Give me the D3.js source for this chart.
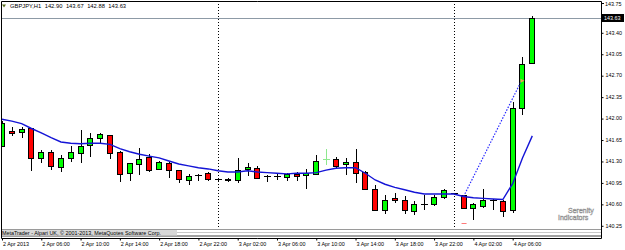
<!DOCTYPE html>
<html>
<head>
<meta charset="utf-8">
<script src="https://cdn.jsdelivr.net/npm/d3@7"></script>
<style>
  body { margin: 0; background: #fff; }
  svg { display: block; font-family: "Liberation Sans", Arial, sans-serif; }
</style>
</head>
<body>
<div class="chart"></div>
<script>
// GBPJPY H1, 2 Apr 02:00 .. 4 Apr 08:00 (bar index 0..54)
const opens  = [141.54,141.79,141.77,141.83,141.34,141.44,141.21,141.36,141.44,141.55,
                141.68,141.72,141.45,141.09,141.26,141.37,141.17,141.27,141.15,140.98,
                141.07,141.11,141.00,141.00,140.98,141.16,141.19,141.05,141.05,141.04,
                141.09,141.06,141.09,141.33,141.33,141.25,141.29,141.12,140.84,140.51,
                140.69,140.67,140.49,140.59,140.59,140.70,140.77,140.74,140.53,140.58,
                140.67,140.65,140.49,142.18,142.90];
const highs  = [141.95,141.86,141.85,141.84,141.48,141.48,141.40,141.55,141.81,141.75,
                141.76,141.73,141.46,141.27,141.51,141.42,141.30,141.28,141.16,141.09,
                141.08,141.12,141.03,141.02,141.35,141.27,141.22,141.07,141.08,141.11,
                141.12,141.17,141.40,141.49,141.36,141.35,141.50,141.14,140.91,140.74,
                140.77,140.73,140.65,140.74,140.74,140.85,140.78,140.75,140.61,140.85,
                140.68,140.67,142.27,142.99,143.67];
const lows   = [141.53,141.70,141.67,141.14,141.27,141.16,141.12,141.29,141.27,141.37,
                141.58,141.34,140.96,140.97,141.07,141.12,141.15,141.03,140.94,140.91,
                140.98,140.97,140.97,140.95,140.94,141.06,141.02,140.95,140.99,140.97,
                140.98,140.84,141.08,141.24,141.19,141.07,140.94,140.83,140.48,140.43,
                140.61,140.43,140.42,140.50,140.57,140.68,140.74,140.51,140.34,140.53,
                140.50,140.39,140.45,142.05,142.88];
const closes = [141.92,141.76,141.82,141.34,141.44,141.21,141.35,141.45,141.55,141.67,
                141.74,141.43,141.09,141.26,141.34,141.16,141.28,141.15,141.01,141.05,
                141.07,141.02,141.00,140.98,141.15,141.20,141.03,141.05,141.05,141.09,
                141.05,141.10,141.30,141.33,141.22,141.28,141.11,140.85,140.49,140.67,
                140.66,140.51,140.60,140.59,140.71,140.82,140.77,140.53,140.59,140.67,
                140.67,140.49,142.16,142.89,143.63];
const maValues = [141.98,141.95,141.91,141.83,141.76,141.68,141.61,141.59,141.58,141.59,
                  141.59,141.57,141.50,141.45,141.41,141.38,141.35,141.30,141.25,141.22,
                  141.19,141.17,141.14,141.12,141.12,141.14,141.12,141.11,141.10,141.09,
                  141.10,141.10,141.11,141.15,141.18,141.19,141.19,141.10,140.99,140.92,
                  140.87,140.83,140.79,140.76,140.76,140.76,140.76,140.72,140.70,140.69,
                  140.68,140.67,140.93,141.35,141.71];

const timeTicks  = [0,4,8,12,16,20,24,28,32,36,40,44,48,52];
const timeLabels = ["2 Apr 2013","2 Apr 06:00","2 Apr 10:00","2 Apr 14:00","2 Apr 18:00",
                    "2 Apr 22:00","3 Apr 02:00","3 Apr 06:00","3 Apr 10:00","3 Apr 14:00",
                    "3 Apr 18:00","3 Apr 22:00","4 Apr 02:00","4 Apr 06:00"];
const priceTicks = [143.40,143.05,142.70,142.35,142.00,141.65,141.30,140.95,140.60,140.25];
const topPriceLabel = "143.75";
const bidPrice = 143.63;
const titleParts = ["GBPJPY,H1","142.90","143.67","142.88","143.63"];
const daySeparators = [22, 46];
const dottedFrom = [47, 140.72], dottedTo = [53, 142.61];
const pinkMark = [47, 140.28];
const copyright = "MetaTrader - Alpari UK, \u00a9 2001-2013, MetaQuotes Software Corp.";

const W = 625, H = 250;
const plot = {left: 1, right: 601, top: 1, bottom: 229};
const axisY = 238;

const svg = d3.select(".chart").append("svg")
  .attr("width", W)
  .attr("height", H);

const x = d3.scaleLinear().domain([0, 54]).range([2, 532.3]);
const y = d3.scaleLinear().domain([140.25, 143.40]).range([225.3, 32.3]);
const snap = v => Math.round(v) + 0.5;

svg.append("clipPath").attr("id", "plotclip")
  .append("rect")
  .attr("x", plot.left).attr("y", plot.top)
  .attr("width", plot.right - plot.left).attr("height", plot.bottom - plot.top);

// day separators (through the info strip as well)
svg.append("g").selectAll("line")
  .data(daySeparators)
  .join("line")
  .attr("x1", d => snap(x(d))).attr("x2", d => snap(x(d)))
  .attr("y1", plot.top).attr("y2", axisY)
  .attr("stroke", "#000")
  .attr("stroke-dasharray", "1,2");

const g = svg.append("g").attr("clip-path", "url(#plotclip)");

// bid line
g.append("line")
  .attr("x1", plot.left).attr("x2", plot.right)
  .attr("y1", snap(y(bidPrice))).attr("y2", snap(y(bidPrice)))
  .attr("stroke", "#8d9aa6");

const bars = opens.map((o, i) => ({i, o, h: highs[i], l: lows[i], c: closes[i]}));

// wicks
g.append("g").selectAll("line")
  .data(bars)
  .join("line")
  .attr("x1", d => snap(x(d.i))).attr("x2", d => snap(x(d.i)))
  .attr("y1", d => Math.round(y(d.h))).attr("y2", d => Math.round(y(d.l)))
  .attr("stroke", d => d.i === 33 ? "#8ee88e" : "#000");

// bodies
g.append("g").selectAll("rect")
  .data(bars.filter(d => d.o !== d.c))
  .join("rect")
  .attr("x", d => Math.round(x(d.i)) - 2.5)
  .attr("y", d => snap(y(Math.max(d.o, d.c))))
  .attr("width", 5)
  .attr("height", d => Math.max(1, Math.round(Math.abs(y(d.o) - y(d.c)))))
  .attr("fill", d => d.c > d.o ? "#00ff00" : "#ff0000")
  .attr("stroke", "#000");

// doji bars
g.append("g").selectAll("line")
  .data(bars.filter(d => d.o === d.c))
  .join("line")
  .attr("x1", d => Math.round(x(d.i)) - 3).attr("x2", d => Math.round(x(d.i)) + 4)
  .attr("y1", d => snap(y(d.o))).attr("y2", d => snap(y(d.o)))
  .attr("stroke", d => d.i === 33 ? "#8ee88e" : "#000");

// moving average
g.append("path")
  .datum(maValues)
  .attr("fill", "none")
  .attr("stroke", "#1414d6")
  .attr("stroke-width", 1.4)
  .attr("d", d3.line().x((d, i) => x(i)).y(d => y(d)));

// dotted projection line + markers
g.append("line")
  .attr("x1", x(dottedFrom[0])).attr("y1", y(dottedFrom[1]))
  .attr("x2", x(dottedTo[0]) - 1).attr("y2", y(dottedTo[1]))
  .attr("stroke", "#2a2aff")
  .attr("stroke-width", 1.2)
  .attr("stroke-dasharray", "1.5,1.5");

g.append("path")
  .attr("transform", `translate(${x(dottedTo[0])},${y(dottedTo[1])})`)
  .attr("d", "M-2,-2L2,0L-2,2Z")
  .attr("fill", "#f0a050");

g.append("line")
  .attr("x1", x(pinkMark[0]) - 2).attr("x2", x(pinkMark[0]) + 3)
  .attr("y1", snap(y(pinkMark[1]))).attr("y2", snap(y(pinkMark[1])))
  .attr("stroke", "#ff7a7a");

// watermark
const wm = svg.append("g")
  .attr("font-size", 7)
  .attr("fill", "#fff")
  .attr("stroke", "#8a8a8a")
  .attr("stroke-width", 0.45);
wm.append("text").attr("x", 568).attr("y", 213).text("Serenity");
wm.append("text").attr("x", 558).attr("y", 220).text("Indicators");

// info strip at the bottom of the chart
svg.append("rect")
  .attr("x", plot.left).attr("y", plot.bottom)
  .attr("width", plot.right - plot.left).attr("height", axisY - plot.bottom)
  .attr("fill", "#fff");
[[229.5, "#9a9a9a"], [232.5, "#c8c8c8"], [235.5, "#a0a0a0"], [236.5, "#a0a0a0"]].forEach(([yy, col]) => {
  svg.append("line")
    .attr("x1", plot.left).attr("x2", plot.right)
    .attr("y1", yy).attr("y2", yy)
    .attr("stroke", col);
});
svg.append("rect")
  .attr("x", plot.left + 1).attr("y", 230)
  .attr("width", 175).attr("height", 5.5)
  .attr("fill", "#d8d8d8");
svg.append("text")
  .attr("x", 2).attr("y", 234.6)
  .attr("font-size", 5.4)
  .attr("fill", "#000")
  .text(copyright);

// frame
svg.append("path")
  .attr("d", `M${plot.left + 0.5},${axisY + 0.5}V${plot.top + 0.5}H${plot.right + 0.5}V${axisY + 0.5}Z`)
  .attr("fill", "none")
  .attr("stroke", "#000");

// price axis
const yAxis = d3.axisRight(y)
  .tickValues(priceTicks)
  .tickFormat(d3.format(".2f"))
  .tickSize(2)
  .tickPadding(2);

svg.append("g")
  .attr("class", "y-axis")
  .attr("transform", `translate(${plot.right + 0.5},0)`)
  .call(yAxis)
  .call(a => a.select(".domain").remove())
  .call(a => a.selectAll(".tick line").attr("stroke", "#000").attr("transform", "translate(0,0.5)"))
  .call(a => a.selectAll(".tick text")
    .attr("font-size", 5.4).attr("font-family", null).attr("fill", "#000"));

svg.append("line")
  .attr("x1", plot.right + 1).attr("x2", plot.right + 3)
  .attr("y1", 3.5).attr("y2", 3.5)
  .attr("stroke", "#000");
svg.append("text")
  .attr("x", plot.right + 4).attr("y", 5.5)
  .attr("font-size", 5.4)
  .text(topPriceLabel);

// bid label box
svg.append("rect")
  .attr("x", plot.right + 1).attr("y", Math.round(y(bidPrice)) - 4)
  .attr("width", 22).attr("height", 8)
  .attr("fill", "#000");
svg.append("text")
  .attr("x", plot.right + 3).attr("y", Math.round(y(bidPrice)) + 2)
  .attr("font-size", 5.4)
  .attr("fill", "#fff")
  .text(d3.format(".2f")(bidPrice));

// time axis
const xAxis = d3.axisBottom(x)
  .tickValues(timeTicks)
  .tickFormat((d, i) => timeLabels[i])
  .tickSize(2)
  .tickPadding(2);

svg.append("g")
  .attr("class", "x-axis")
  .attr("transform", `translate(0,${axisY + 0.5})`)
  .call(xAxis)
  .call(a => a.select(".domain").remove())
  .call(a => a.selectAll(".tick line").attr("stroke", "#000"))
  .call(a => a.selectAll(".tick text")
    .attr("text-anchor", "start").attr("dx", "0.5")
    .attr("font-size", 5.4).attr("font-family", null).attr("fill", "#000"));

// title
svg.append("path")
  .attr("d", "M2,4.5H6L4,7.5Z")
  .attr("fill", "#5a6e1e");
const title = svg.append("text")
  .attr("y", 8)
  .attr("font-size", 5.8)
  .attr("fill", "#000");
let tx = 10;
titleParts.forEach(t => {
  const s = title.append("tspan").attr("x", tx).text(t);
  tx += s.node().getComputedTextLength() + 3.5;
});
</script>
</body>
</html>
